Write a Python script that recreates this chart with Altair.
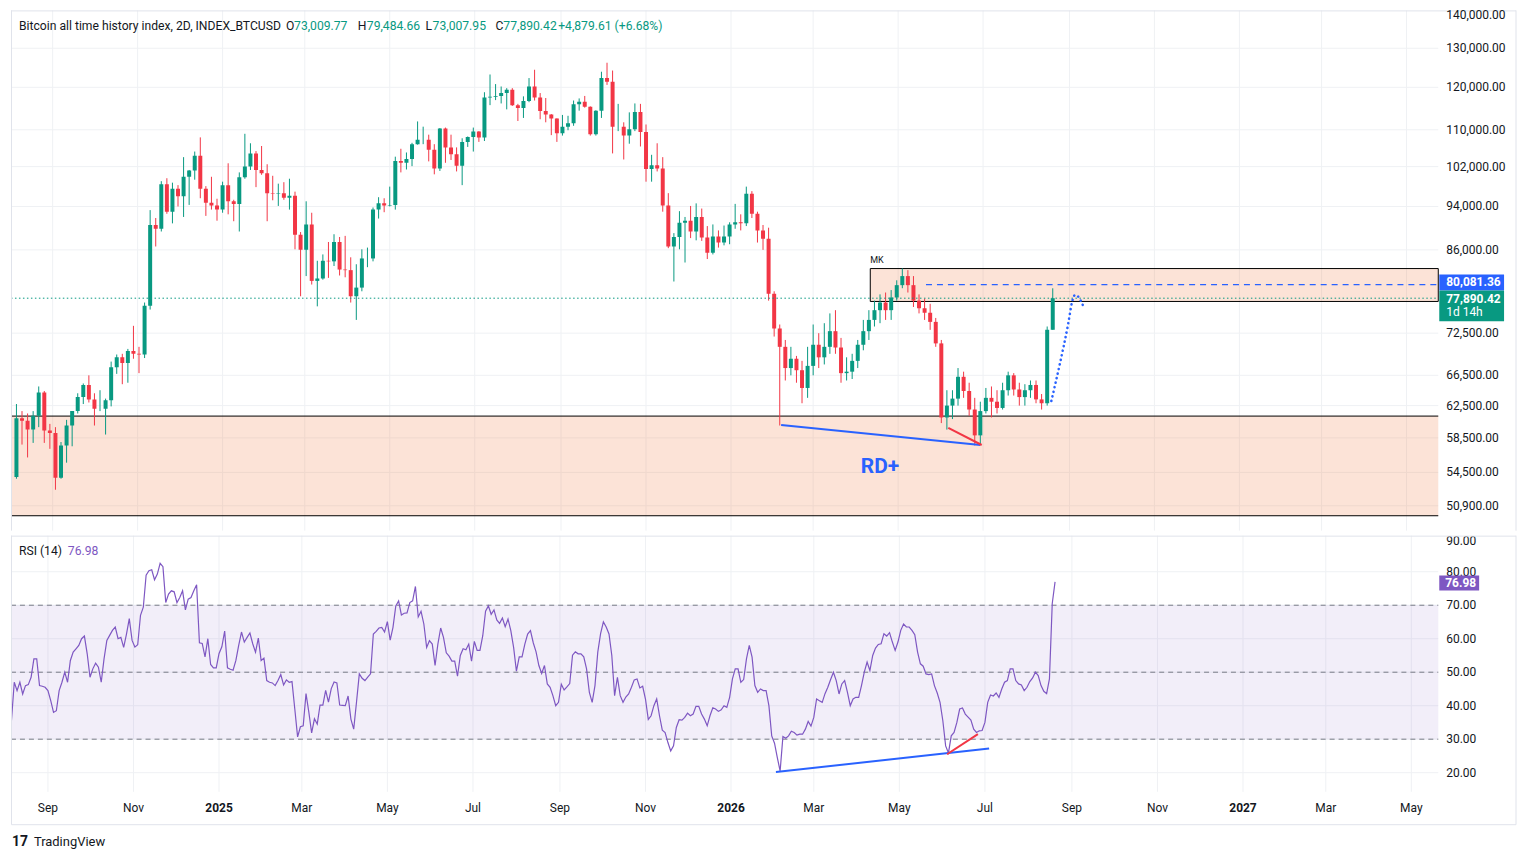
import altair as alt
import pandas as pd
import numpy as np

FONT = "Roboto"
GREEN = "#089981"
RED = "#F23645"
BLUE = "#2962FF"
PURPLE = "#7E57C2"
TEXT = "#131722"
GRID = "#EFF1F4"
FRAME = "#E0E3EB"
ZONE = "#F0804A"

W, H1, H2 = 1432, 522, 257

# ---------------- data (prices in thousands of USD) ----------------
candle_start = "2024-08-06"   # 4-day candles
first_open = 54.0
closes = [
    60.9, 60.6, 59.5, 61.2, 64.2, 59.4, 59.1, 53.9, 57.6, 60.0,
    61.8, 63.6, 65.2, 63.3, 62.1, 62.1, 63.2, 67.6, 69.0, 68.2,
    69.9, 69.5, 69.4, 76.7, 90.5, 89.8, 98.4, 93.0, 97.5, 96.0,
    99.9, 101.2, 104.3, 97.5, 94.7, 94.2, 93.4, 98.2, 95.0, 94.5,
    99.8, 102.0, 104.8, 101.3, 100.6, 96.6, 96.5, 96.6, 95.7, 96.1,
    88.7, 86.0, 90.6, 80.7, 81.1, 84.1, 84.0, 87.4, 82.6, 82.5,
    78.2, 79.6, 84.5, 84.5, 93.4, 94.6, 94.2, 94.3, 103.2, 102.8,
    103.6, 106.8, 107.8, 107.8, 105.6, 101.6, 110.3, 106.1, 104.6, 102.2,
    107.3, 108.4, 109.6, 108.3, 117.5, 117.7, 117.9, 118.6, 119.4, 115.7,
    115.0, 116.7, 120.2, 117.5, 114.3, 113.5, 112.6, 109.2, 110.7, 111.5,
    115.9, 116.5, 115.3, 109.0, 114.4, 122.3, 121.4, 110.7, 110.7, 108.7,
    110.1, 114.1, 109.5, 101.5, 102.3, 101.6, 94.2, 86.6, 88.3, 90.9,
    91.3, 89.3, 92.0, 88.2, 85.5, 88.4, 87.3, 88.4, 90.6, 91.0,
    90.8, 96.5, 92.6, 89.5, 88.0, 78.6, 73.2, 70.5, 67.5, 68.8,
    67.2, 64.8, 67.8, 70.8, 69.0, 70.5, 72.8, 70.4, 66.8, 67.0,
    68.5, 70.8, 72.8, 74.5, 76.0, 77.2, 76.0, 78.0, 80.0, 81.5,
    80.0, 77.5, 76.3, 75.6, 74.2, 71.0, 61.0, 62.5, 63.4, 66.3,
    64.4, 62.0, 58.8, 61.8, 63.5, 63.0, 62.2, 64.5, 66.5, 64.6,
    63.6, 64.5, 65.2, 63.3, 62.8, 73.00977, 77.89042,
]
highs = [
    62.7, 61.8, 61.5, 61.8, 65.0, 64.4, 60.2, 59.8, 58.0, 60.7,
    61.8, 64.1, 65.4, 66.5, 64.1, 64.5, 63.4, 68.4, 69.4, 69.5,
    70.2, 73.6, 70.5, 77.2, 93.3, 91.8, 99.0, 99.6, 98.7, 98.2,
    104.0, 101.3, 105.2, 108.3, 98.0, 99.9, 95.5, 98.9, 102.7, 95.3,
    100.8, 109.1, 107.0, 105.3, 106.4, 102.5, 100.1, 98.5, 98.8, 99.5,
    96.9, 89.2, 95.0, 92.8, 84.1, 85.2, 87.4, 88.8, 88.3, 88.5,
    84.7, 83.5, 86.1, 86.4, 93.8, 95.8, 95.6, 97.9, 104.1, 105.8,
    105.0, 107.1, 111.9, 110.7, 108.9, 106.8, 110.4, 110.5, 108.9, 106.1,
    108.1, 108.5, 110.5, 109.7, 118.8, 123.2, 120.8, 120.2, 119.8, 119.8,
    116.0, 117.8, 122.3, 124.4, 118.6, 117.4, 113.6, 112.6, 113.4, 113.2,
    116.8, 117.3, 117.9, 115.4, 114.5, 123.9, 126.2, 124.2, 116.0, 111.7,
    114.0, 116.1, 116.0, 111.2, 104.5, 107.0, 104.0, 96.6, 89.0, 93.1,
    92.0, 94.1, 94.6, 93.6, 90.3, 90.6, 89.5, 90.4, 91.0, 94.5,
    92.5, 97.9, 97.0, 93.0, 90.5, 90.0, 79.0, 73.8, 71.5, 70.5,
    69.2, 68.5, 70.5, 73.8, 72.5, 74.0, 75.5, 76.0, 71.8, 69.0,
    69.5, 71.5, 74.5, 76.0, 77.5, 78.5, 78.8, 79.2, 80.8, 82.8,
    82.5, 81.5, 78.5, 77.8, 77.0, 74.8, 71.5, 64.5, 64.5, 67.5,
    67.0, 65.5, 63.5, 63.0, 64.8, 65.0, 64.5, 65.5, 67.0, 66.8,
    65.5, 65.3, 65.8, 65.8, 64.0, 73.5, 79.48466,
]
lows = [
    53.8, 57.7, 56.2, 57.9, 59.8, 57.9, 57.2, 52.6, 53.8, 55.6,
    57.5, 61.5, 62.7, 62.9, 60.0, 61.8, 58.9, 62.4, 66.7, 65.3,
    65.5, 68.8, 66.8, 68.9, 76.1, 86.6, 89.3, 92.6, 90.8, 94.0,
    92.0, 94.3, 99.3, 95.6, 92.2, 93.4, 91.3, 92.8, 92.5, 91.2,
    89.3, 99.5, 101.3, 97.8, 100.3, 91.2, 95.2, 94.1, 95.3, 93.4,
    86.1, 78.2, 81.5, 80.1, 76.6, 80.9, 81.2, 83.2, 81.6, 81.3,
    77.2, 74.5, 79.0, 83.0, 84.0, 91.7, 92.9, 94.0, 93.4, 100.8,
    101.4, 102.1, 106.7, 106.8, 103.1, 100.4, 101.1, 102.8, 103.4, 101.0,
    98.2, 106.2, 105.2, 107.3, 107.5, 115.7, 116.9, 116.1, 114.7, 115.5,
    112.0, 112.7, 116.4, 116.8, 112.4, 111.7, 108.8, 107.3, 108.7, 109.9,
    110.9, 114.4, 115.1, 108.7, 108.7, 112.7, 120.6, 104.8, 109.7, 103.5,
    106.9, 109.7, 106.3, 98.9, 98.9, 101.0, 93.0, 86.3, 80.6, 86.1,
    83.8, 88.1, 87.7, 87.6, 84.4, 85.2, 86.4, 86.8, 87.0, 89.8,
    89.5, 90.3, 91.8, 87.3, 86.0, 77.5, 72.0, 60.0, 65.8, 66.5,
    65.5, 62.8, 63.5, 66.5, 67.5, 68.0, 69.5, 69.5, 65.5, 65.8,
    66.0, 67.5, 70.0, 71.5, 73.5, 74.0, 74.5, 74.5, 77.5, 79.5,
    78.8, 76.5, 75.5, 74.5, 73.0, 70.5, 60.3, 59.5, 60.8, 62.5,
    63.5, 61.2, 57.6, 57.7, 61.5, 61.0, 61.5, 62.0, 63.8, 63.8,
    62.5, 62.5, 63.5, 62.8, 62.0, 62.5, 73.00795,
]

rsi_start = "2024-08-06"   # 2-day bars
rsi_values = [
    35.6, 47.0, 44.5, 47.0, 43.5, 46.0, 46.3, 48.5, 54.0, 54.0,
    46.0, 45.8, 45.5, 44.5, 41.5, 38.0, 38.5, 44.5, 47.0, 50.0,
    47.0, 53.5, 56.0, 57.0, 58.0, 60.0, 60.8, 55.5, 48.5, 51.0,
    52.7, 51.5, 47.0, 54.0, 59.5, 61.0, 62.5, 63.5, 60.0, 60.4,
    57.4, 61.4, 66.0, 59.5, 57.5, 58.2, 67.0, 69.4, 79.0, 80.3,
    80.6, 77.6, 79.3, 82.5, 81.5, 70.8, 73.3, 74.3, 74.0, 70.8,
    72.3, 74.3, 68.6, 71.8, 72.3, 74.3, 76.1, 58.8, 58.6, 54.6,
    60.0, 52.3, 51.3, 51.3, 55.6, 57.6, 62.3, 51.3, 50.9, 50.6,
    53.5, 58.0, 62.0, 59.0, 60.4, 61.7, 58.5, 56.0, 60.2, 53.5,
    54.2, 47.5, 47.0, 46.8, 46.0, 47.5, 49.3, 46.2, 47.7, 47.0,
    47.2, 39.0, 30.7, 33.7, 34.0, 43.6, 38.1, 31.9, 36.1, 34.5,
    40.2, 40.2, 44.6, 41.1, 45.1, 47.1, 46.8, 40.2, 40.1, 40.0,
    42.9, 36.0, 33.0, 41.1, 49.5, 48.2, 47.5, 48.5, 49.5, 61.4,
    62.2, 63.2, 63.4, 62.0, 65.1, 59.6, 63.4, 69.8, 71.3, 67.1,
    67.6, 67.7, 70.8, 71.3, 75.6, 66.5, 68.2, 64.4, 57.4, 59.4,
    58.4, 52.0, 58.4, 63.2, 60.4, 55.8, 54.8, 53.3, 53.3, 48.8,
    55.0, 57.0, 56.7, 58.4, 53.3, 59.2, 56.5, 56.5, 60.9, 68.2,
    69.8, 67.3, 68.6, 65.6, 64.6, 66.2, 63.6, 65.9, 62.4, 57.4,
    50.3, 54.6, 54.6, 58.4, 61.4, 62.4, 58.8, 56.1, 52.0, 49.6,
    52.0, 46.5, 45.5, 43.0, 40.0, 41.0, 46.4, 44.7, 45.6, 46.6,
    55.1, 56.1, 55.5, 55.5, 54.6, 51.0, 44.0, 41.0, 46.0, 56.0,
    61.5, 65.0, 63.5, 61.4, 55.0, 43.0, 48.5, 43.0, 41.0, 42.6,
    43.5, 45.5, 47.7, 48.0, 45.3, 45.8, 42.0, 35.9, 37.0, 40.0,
    42.0, 37.0, 32.7, 32.0, 29.0, 26.5, 28.0, 33.5, 35.8, 35.7,
    36.5, 37.8, 37.0, 37.5, 39.8, 39.8, 37.5, 36.0, 34.0, 37.0,
    39.4, 39.0, 38.3, 38.8, 40.0, 39.5, 42.5, 48.0, 51.0, 51.0,
    47.0, 47.8, 54.0, 58.0, 54.5, 46.0, 44.0, 45.0, 44.5, 44.5,
    40.0, 31.0, 28.8, 24.5, 20.5, 30.8, 30.3, 31.0, 32.4, 32.0,
    31.2, 31.5, 31.5, 33.0, 35.3, 33.9, 36.5, 42.0, 41.5, 41.0,
    43.6, 45.5, 47.8, 50.0, 47.5, 43.5, 46.5, 47.5, 44.0, 40.0,
    42.0, 42.5, 42.5, 46.0, 50.0, 53.0, 50.5, 55.0, 57.2, 58.3,
    58.5, 61.5, 60.8, 61.8, 59.0, 56.5, 59.0, 62.5, 64.4, 63.5,
    63.5, 62.5, 61.2, 56.0, 52.5, 51.8, 49.5, 49.3, 49.5, 46.0,
    43.8, 41.0, 35.5, 28.0, 25.9, 31.0, 32.0, 35.0, 39.0, 39.3,
    37.5, 36.6, 35.7, 33.0, 32.0, 32.5, 32.6, 35.0, 41.0, 43.2,
    42.9, 43.8, 42.5, 45.0, 47.0, 47.5, 51.0, 51.0, 47.5, 46.5,
    46.2, 44.5, 45.5, 47.2, 48.3, 50.0, 49.0, 46.0, 44.3, 43.6,
    48.0, 70.5, 76.98,
]

price_ticks = [50900, 54500, 58500, 62500, 66500, 72500, 86000, 94000,
               102000, 110000, 120000, 130000]
price_top_label = ["140,000.00"]
rsi_ticks = [20, 30, 40, 50, 60, 70, 80]
rsi_top_label = ["90.00"]
rsi_levels = [70, 50, 30]
month_dates = ["2024-09-01", "2024-11-01", "2025-03-01", "2025-05-01", "2025-07-01",
               "2025-09-01", "2025-11-01", "2026-03-01", "2026-05-01", "2026-07-01",
               "2026-09-01", "2026-11-01", "2027-03-01", "2027-05-01"]
month_labels = ["Sep", "Nov", "Mar", "May", "Jul", "Sep", "Nov", "Mar", "May", "Jul",
                "Sep", "Nov", "Mar", "May"]
year_dates = ["2025-01-01", "2026-01-01", "2027-01-01"]
year_labels = ["2025", "2026", "2027"]

support_zone = [61170, 49870]
mk_start = ["2026-04-11"]
mk_zone = [82770, 77370]
last_close = [77890.42]
blue_level_start = ["2026-05-21"]
blue_level = [80081.36]
rd_blue_dates = ["2026-02-06", "2026-06-29"]
rd_blue_vals = [60060, 57650]
rd_red_dates = ["2026-06-06", "2026-06-30"]
rd_red_vals = [59700, 57650]
proj_dates = ["2026-08-19", "2026-08-25", "2026-08-31", "2026-09-03",
              "2026-09-05", "2026-09-07", "2026-09-11"]
proj_vals = [63100, 68000, 73800, 77400, 78400, 78200, 76600]
rd_label_date = ["2026-04-18"]
rd_label_val = [55100]
rsi_blue_dates = ["2026-02-02", "2026-07-04"]
rsi_blue_vals = [20.2, 27.2]
rsi_red_dates = ["2026-06-04", "2026-06-26"]
rsi_red_vals = [25.5, 31.5]

header_labels = ["Bitcoin all time history index, 2D, INDEX_BTCUSD",
                 "O", "73,009.77", "H", "79,484.66", "L", "73,007.95",
                 "C", "77,890.42", "+4,879.61 (+6.68%)"]

# ---------------- frames ----------------
dates = pd.date_range(candle_start, periods=len(closes), freq="4D").strftime("%Y-%m-%d")
c_arr = np.array(closes) * 1000
o_arr = np.concatenate([[first_open], np.array(closes[:-1])]) * 1000
cdf = pd.DataFrame({
    "date": list(dates), "open": o_arr, "close": c_arr,
    "high": np.array(highs) * 1000, "low": np.array(lows) * 1000,
})
cdf["dir"] = np.where(cdf["close"] >= cdf["open"], "up", "down")

rdates = pd.date_range(rsi_start, periods=len(rsi_values), freq="2D").strftime("%Y-%m-%d")
rdf = pd.DataFrame({"date": list(rdates), "rsi": rsi_values})

all_grid_dates = sorted(month_dates + year_dates)
grid_df = pd.DataFrame({"date": all_grid_dates})
pt_df = pd.DataFrame({"v": price_ticks, "lab": [f"{v:,.2f}" for v in price_ticks]})
rt_df = pd.DataFrame({"v": rsi_ticks, "lab": [f"{v:.2f}" for v in rsi_ticks]})

# ---------------- scales ----------------
xs = alt.Scale(type="utc", domain=[
    alt.DateTime(year=2024, month=8, date=5, hours=16, utc=True),
    alt.DateTime(year=2027, month=5, date=20, hours=5, utc=True)])
ys = alt.Scale(type="log", domain=[48367, 140496], nice=False)
rs = alt.Scale(domain=[14.29, 90.77], nice=False, zero=False)

col = alt.Color("dir:N", scale=alt.Scale(domain=["up", "down"], range=[GREEN, RED]), legend=None)


def X(field):
    return alt.X(field, scale=xs, axis=None)


def YP(field):
    return alt.Y(field, scale=ys, axis=None)


def YR(field):
    return alt.Y(field, scale=rs, axis=None)


def one():
    return pd.DataFrame({"k": [0]})


def txt(label, x, y, color=TEXT, size=12.2, weight="normal", align="left", baseline="middle"):
    return alt.Chart(pd.DataFrame({"t": [label]})).mark_text(
        x=x, y=y, align=align, baseline=baseline, color=color, fontSize=size,
        fontWeight=weight, font=FONT).encode(text="t:N")


def box(x1, x2, y1, y2, color):
    return alt.Chart(one()).mark_rect(color=color).encode(
        x=alt.value(x1), x2=alt.value(x2), y=alt.value(y1), y2=alt.value(y2))


def hline(x1, x2, y, color=FRAME):
    return alt.Chart(one()).mark_rule(color=color, strokeWidth=1).encode(
        x=alt.value(x1), x2=alt.value(x2), y=alt.value(y))


def vline(x, y1, y2, color=FRAME):
    return alt.Chart(one()).mark_rule(color=color, strokeWidth=1).encode(
        x=alt.value(x), y=alt.value(y1), y2=alt.value(y2))


# ---------------- main pane ----------------
vgrid_main = alt.Chart(grid_df).mark_rule(color=GRID, strokeWidth=1).encode(
    x=X("date:T"), y=alt.value(0), y2=alt.value(H1))
hgrid_main = alt.Chart(pt_df).mark_rule(color=GRID, strokeWidth=1).encode(
    y=YP("v:Q"), x=alt.value(0), x2=alt.value(W))
price_labels = alt.Chart(pt_df).mark_text(
    align="left", baseline="middle", fontSize=12, color=TEXT, font=FONT).encode(
    y=YP("v:Q"), x=alt.value(W + 8), text="lab:N")

zone = alt.Chart(pd.DataFrame({"top": [support_zone[0]], "bot": [support_zone[1]]})).mark_rect(
    color=ZONE, opacity=0.22).encode(
    x=alt.value(0), x2=alt.value(W), y=YP("top:Q"), y2="bot:Q")
zone_lines = alt.Chart(pd.DataFrame({"v": support_zone})).mark_rule(
    color="#000000", strokeWidth=1).encode(
    x=alt.value(0), x2=alt.value(W), y=YP("v:Q"))

mk_df = pd.DataFrame({"start": mk_start, "top": [mk_zone[0]], "bot": [mk_zone[1]], "t": ["MK"]})
mk = alt.Chart(mk_df).mark_rect(fill=ZONE, fillOpacity=0.22, stroke="#000000", strokeWidth=1).encode(
    x=X("start:T"), x2=alt.value(W), y=YP("top:Q"), y2="bot:Q")
mk_text = alt.Chart(mk_df).mark_text(align="left", baseline="bottom", dx=0, dy=-4,
                                     fontSize=9, color=TEXT, font=FONT).encode(
    x=X("start:T"), y=YP("top:Q"), text="t:N")

wick = alt.Chart(cdf).mark_rule(strokeWidth=1, clip=True).encode(
    x=X("date:T"), y=YP("low:Q"), y2="high:Q", color=col)
body = alt.Chart(cdf).mark_bar(size=4, clip=True).encode(
    x=X("date:T"), y=YP("open:Q"), y2="close:Q", color=col)

price_line = alt.Chart(pd.DataFrame({"v": last_close})).mark_rule(
    color=GREEN, strokeDash=[1.5, 2.5], strokeWidth=1).encode(
    x=alt.value(0), x2=alt.value(W), y=YP("v:Q"))
blue_line = alt.Chart(pd.DataFrame({"start": blue_level_start, "v": blue_level})).mark_rule(
    color=BLUE, strokeDash=[6, 5], strokeWidth=1.2).encode(
    x=X("start:T"), x2=alt.value(W), y=YP("v:Q"))

rd_blue = alt.Chart(pd.DataFrame({"date": rd_blue_dates, "v": rd_blue_vals})).mark_line(
    color=BLUE, strokeWidth=2).encode(x=X("date:T"), y=YP("v:Q"))
rd_red = alt.Chart(pd.DataFrame({"date": rd_red_dates, "v": rd_red_vals})).mark_line(
    color=RED, strokeWidth=2).encode(x=X("date:T"), y=YP("v:Q"))
proj = alt.Chart(pd.DataFrame({"date": proj_dates, "v": proj_vals})).mark_line(
    color=BLUE, strokeWidth=2.6, strokeDash=[0.1, 4.6], strokeCap="round",
    interpolate="monotone").encode(x=X("date:T"), y=YP("v:Q"))
rd_text = alt.Chart(pd.DataFrame({"date": rd_label_date, "v": rd_label_val, "t": ["RD+"]})).mark_text(
    fontSize=21, fontWeight="bold", color=BLUE, font=FONT).encode(
    x=X("date:T"), y=YP("v:Q"), text="t:N")

hx = [8, 276, 284, 348, 357, 416, 423, 486, 494, 549]
hcol = [TEXT, TEXT, GREEN, TEXT, GREEN, TEXT, GREEN, TEXT, GREEN, GREEN]
header = [txt(lbl, x, 16, color=cc) for lbl, x, cc in zip(header_labels, hx, hcol)]

badges = [
    box(W + 1, W + 66, 265, 281, BLUE),
    txt("80,081.36", W + 8, 273, color="white", size=12, weight="bold"),
    box(W + 1, W + 66, 281, 312, GREEN),
    txt("77,890.42", W + 8, 289.5, color="white", size=12, weight="bold"),
    txt("1d 14h", W + 8, 303, color="white", size=12),
]

main_frame = [hline(0, 1510, 0.5), vline(0.5, 0, H1), vline(1510, 0, H1),
              txt(price_top_label[0], W + 8, 0, size=12, baseline="top")]

main = alt.layer(vgrid_main, hgrid_main, zone, zone_lines, mk, wick, body, price_line,
                 blue_line, rd_blue, rd_red, proj, rd_text, mk_text, price_labels,
                 *header, *badges, *main_frame).properties(width=W, height=H1)

# ---------------- RSI pane ----------------
vgrid_rsi = alt.Chart(grid_df).mark_rule(color=GRID, strokeWidth=1).encode(
    x=X("date:T"), y=alt.value(0), y2=alt.value(H2))
hgrid_rsi = alt.Chart(rt_df).mark_rule(color=GRID, strokeWidth=1).encode(
    y=YR("v:Q"), x=alt.value(0), x2=alt.value(W))
rsi_labels = alt.Chart(rt_df).mark_text(
    align="left", baseline="middle", fontSize=12, color=TEXT, font=FONT).encode(
    y=YR("v:Q"), x=alt.value(W + 8), text="lab:N")

band = alt.Chart(pd.DataFrame({"hi": [70], "lo": [30]})).mark_rect(
    color=PURPLE, opacity=0.1).encode(
    x=alt.value(0), x2=alt.value(W), y=YR("hi:Q"), y2="lo:Q")
levels = alt.Chart(pd.DataFrame({"v": rsi_levels})).mark_rule(
    color="#787B86", strokeDash=[5, 4], strokeWidth=1).encode(
    x=alt.value(0), x2=alt.value(W), y=YR("v:Q"))
rsi_line = alt.Chart(rdf).mark_line(color=PURPLE, strokeWidth=1.2, clip=True).encode(
    x=X("date:T"), y=YR("rsi:Q"))
rsi_blue = alt.Chart(pd.DataFrame({"date": rsi_blue_dates, "v": rsi_blue_vals})).mark_line(
    color=BLUE, strokeWidth=2).encode(x=X("date:T"), y=YR("v:Q"))
rsi_red = alt.Chart(pd.DataFrame({"date": rsi_red_dates, "v": rsi_red_vals})).mark_line(
    color=RED, strokeWidth=2).encode(x=X("date:T"), y=YR("v:Q"))
months = alt.Chart(pd.DataFrame({"date": month_dates, "t": month_labels})).mark_text(
    baseline="top", fontSize=12, color=TEXT, font=FONT).encode(
    x=X("date:T"), y=alt.value(H2 + 11), text="t:N")
years = alt.Chart(pd.DataFrame({"date": year_dates, "t": year_labels})).mark_text(
    baseline="top", fontSize=12, fontWeight="bold", color=TEXT, font=FONT).encode(
    x=X("date:T"), y=alt.value(H2 + 11), text="t:N")

rsi_extra = [
    txt("RSI (14)", 8, 15),
    txt("76.98", 57, 15, color=PURPLE),
    txt(rsi_top_label[0], W + 8, 0, size=12, baseline="top"),
    box(W + 1, W + 41, 40, 55, PURPLE),
    txt("76.98", W + 7, 47.5, color="white", size=12, weight="bold"),
    hline(0, 1510, 0.5),
    hline(0.5, 1510, 290),
    vline(0.5, 0, 290),
    vline(1510, 0, 290),
    txt("17", 1, 307, color=TEXT, size=14, weight="bold"),
    txt("TradingView", 23, 307, color=TEXT, size=13),
]

rsi = alt.layer(vgrid_rsi, hgrid_rsi, band, levels, rsi_line, rsi_blue, rsi_red,
                rsi_labels, months, years, *rsi_extra).properties(width=W, height=H2)

chart = alt.vconcat(main, rsi, spacing=3).resolve_scale(
    x="independent", y="independent", color="independent"
).properties(
    padding={"left": 2, "top": 0, "right": 5, "bottom": 5}, background="white"
).configure_view(strokeWidth=0)

chart.save("out.html", embed_options={"renderer": "svg", "actions": False})
